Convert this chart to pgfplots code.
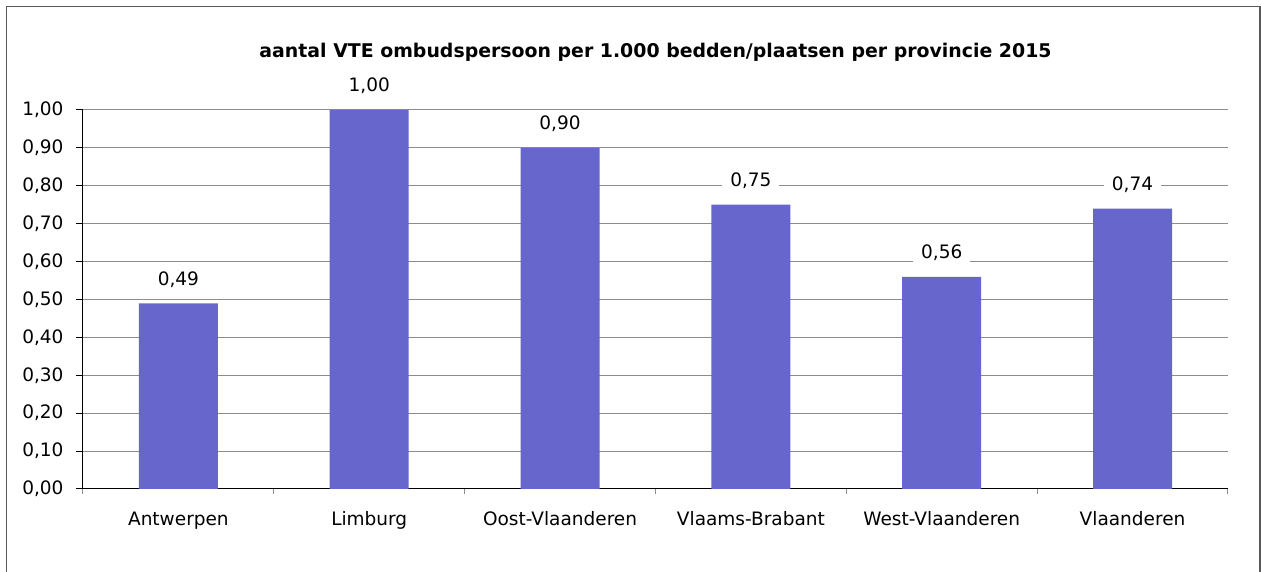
\documentclass[border=0pt]{standalone}
\usepackage{pgfplots}
\pgfplotsset{compat=1.18}
\usepackage{fontspec}
\setmainfont{DejaVu Sans}
\definecolor{barblue}{RGB}{102,102,204}
\definecolor{gridgray}{RGB}{140,140,140}

\begin{document}
\begin{tikzpicture}
  \begin{axis}[
      at={(0pt,0pt)}, anchor=south west,
      scale only axis,
      width=1145pt, height=379pt,
      xmin=0.5, xmax=6.5,
      ymin=0, ymax=1,
      axis x line*=bottom, axis y line*=left,
      axis line style={black, line width=1pt},
      tick align=outside,
      xtick={1,2,3,4,5,6},
      xticklabels={Antwerpen, Limburg, Oost-Vlaanderen, Vlaams-Brabant, West-Vlaanderen, Vlaanderen},
      minor xtick={0.5,1.5,2.5,3.5,4.5,5.5,6.5},
      minor tick length=5pt,
      every major x tick/.style={draw=none},
      every minor x tick/.style={gridgray, line width=1pt},
      ytick={0,0.1,0.2,0.3,0.4,0.5,0.6,0.7,0.8,0.9,1.0},
      major tick length=7pt,
      every major y tick/.style={black, line width=1pt},
      ymajorgrids=true,
      grid style={gridgray, line width=1pt},
      tick label style={font=\fontsize{18.5}{20}\selectfont},
      xticklabel style={anchor=base, yshift=-30pt},
      yticklabel style={xshift=-9pt},
      /pgf/number format/.cd, use comma, fixed, fixed zerofill, precision=2, assume math mode=true,
      /pgfplots/.cd,
      ybar, bar width=79pt,
      nodes near coords,
      every node near coord/.append style={
        fill=white, inner xsep=8pt, inner ysep=1pt,
        anchor=center, yshift=24pt,
        font=\fontsize{18.5}{20}\selectfont, text=black},
    ]
    \addplot[fill=barblue, draw=none] coordinates {
        (1,0.49) (2,1.00) (3,0.90) (4,0.75) (5,0.56) (6,0.74)
      };
  \end{axis}
  \node[font=\bfseries\fontsize{18.9}{20}\selectfont, anchor=base]
    at (572.5pt,431pt) {aantal VTE ombudspersoon per 1.000 bedden/plaatsen per provincie 2015};
  \draw[black!65, line width=1.5pt] (-76.5pt,482.5pt) rectangle (1177pt,-100pt);
  \pgfresetboundingbox
  \path[use as bounding box] (-83pt,-83pt) rectangle (1178pt,489pt);
\end{tikzpicture}
\end{document}
